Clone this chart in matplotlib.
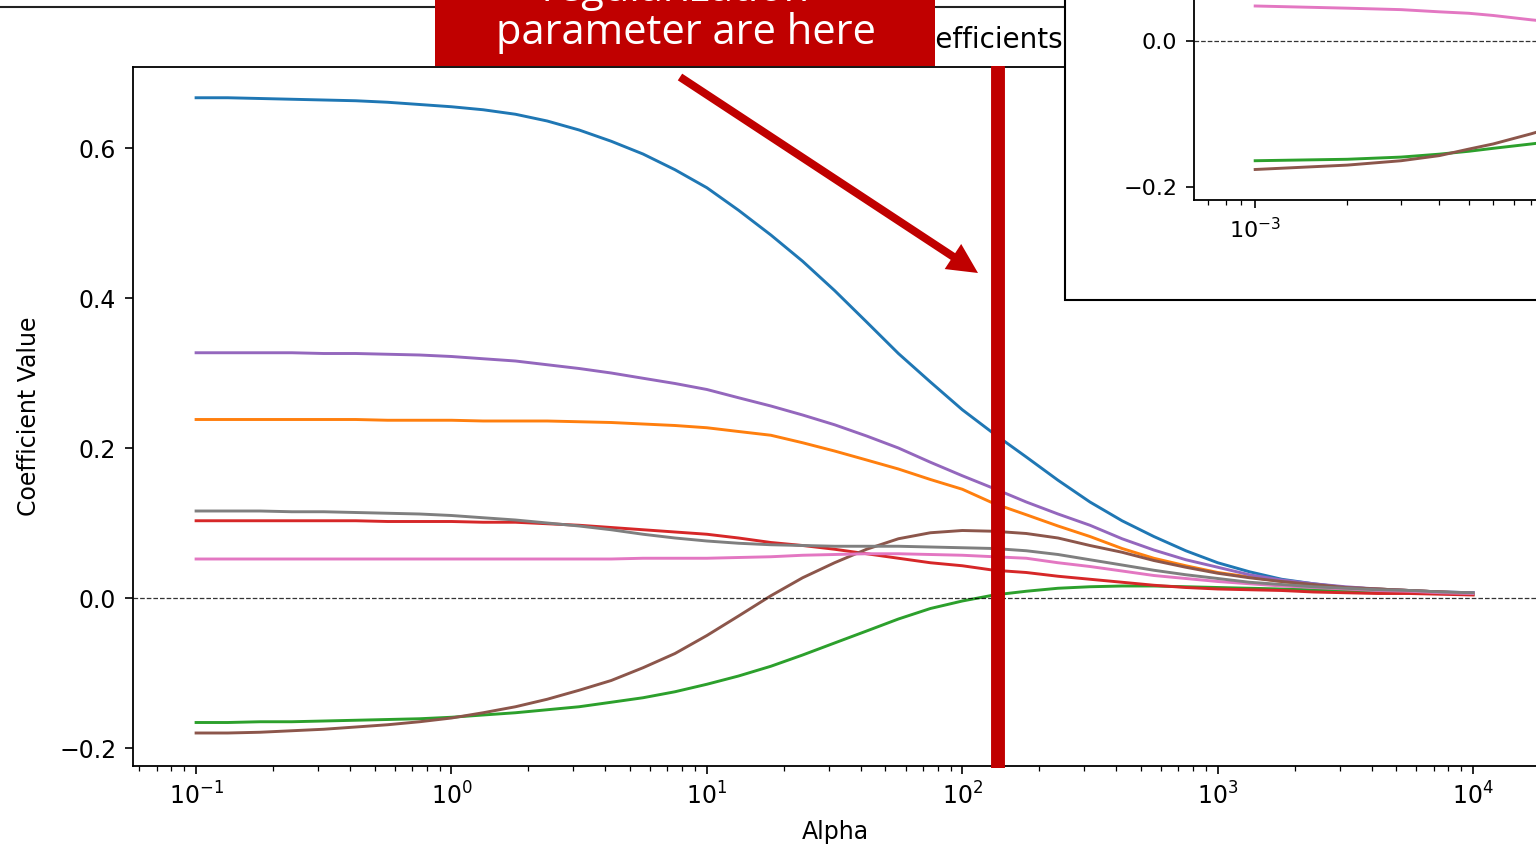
import matplotlib
matplotlib.use("Agg")
import matplotlib.pyplot as plt
from matplotlib.patches import Rectangle, FancyArrowPatch
from matplotlib.lines import Line2D

W, H = 1536, 865
RED = "#C00000"

# ridge path (alpha on an eighth-decade grid)
alpha = [0.1, 0.133, 0.178, 0.237, 0.316, 0.422, 0.562, 0.750,
         1.0, 1.33, 1.78, 2.37, 3.16, 4.22, 5.62, 7.50,
         10, 13.3, 17.8, 23.7, 31.6, 42.2, 56.2, 75.0,
         100, 133, 178, 237, 316, 422, 562, 750,
         1000, 1330, 1780, 2370, 3160, 4220, 5620, 7500,
         10000]

coef_blue = [0.667, 0.667, 0.666, 0.665, 0.664, 0.663, 0.661, 0.658,
             0.655, 0.651, 0.645, 0.636, 0.624, 0.609, 0.592, 0.571,
             0.547, 0.517, 0.484, 0.449, 0.410, 0.368, 0.326, 0.288,
             0.251, 0.219, 0.188, 0.157, 0.128, 0.103, 0.082, 0.063,
             0.047, 0.035, 0.025, 0.019, 0.014, 0.012, 0.010, 0.008,
             0.007]
coef_orange = [0.238, 0.238, 0.238, 0.238, 0.238, 0.238, 0.237, 0.237,
               0.237, 0.236, 0.236, 0.236, 0.235, 0.234, 0.232, 0.230,
               0.227, 0.222, 0.217, 0.207, 0.196, 0.184, 0.172, 0.158,
               0.145, 0.126, 0.111, 0.096, 0.082, 0.066, 0.053, 0.043,
               0.034, 0.028, 0.022, 0.017, 0.014, 0.012, 0.010, 0.008,
               0.006]
coef_green = [-0.166, -0.166, -0.165, -0.165, -0.164, -0.163, -0.162, -0.161,
              -0.159, -0.156, -0.153, -0.149, -0.145, -0.139, -0.133, -0.125,
              -0.115, -0.104, -0.091, -0.076, -0.060, -0.044, -0.028, -0.014,
              -0.004, 0.004, 0.009, 0.013, 0.015, 0.016, 0.016, 0.015,
              0.014, 0.013, 0.012, 0.011, 0.010, 0.009, 0.008, 0.007,
              0.005]
coef_red = [0.103, 0.103, 0.103, 0.103, 0.103, 0.103, 0.102, 0.102,
            0.102, 0.101, 0.101, 0.099, 0.097, 0.094, 0.091, 0.088,
            0.085, 0.080, 0.074, 0.070, 0.065, 0.059, 0.053, 0.047,
            0.043, 0.037, 0.034, 0.029, 0.025, 0.021, 0.017, 0.014,
            0.012, 0.011, 0.010, 0.008, 0.007, 0.006, 0.006, 0.005,
            0.004]
coef_purple = [0.327, 0.327, 0.327, 0.327, 0.326, 0.326, 0.325, 0.324,
               0.322, 0.319, 0.316, 0.311, 0.306, 0.300, 0.293, 0.286,
               0.278, 0.267, 0.256, 0.244, 0.231, 0.216, 0.200, 0.181,
               0.163, 0.146, 0.128, 0.112, 0.097, 0.079, 0.064, 0.051,
               0.041, 0.031, 0.024, 0.019, 0.015, 0.012, 0.010, 0.008,
               0.007]
coef_brown = [-0.180, -0.180, -0.179, -0.177, -0.175, -0.172, -0.169, -0.165,
              -0.160, -0.153, -0.145, -0.135, -0.123, -0.110, -0.093, -0.074,
              -0.050, -0.024, 0.003, 0.027, 0.047, 0.065, 0.079, 0.087,
              0.090, 0.089, 0.086, 0.080, 0.070, 0.061, 0.050, 0.041,
              0.033, 0.027, 0.022, 0.018, 0.014, 0.012, 0.010, 0.008,
              0.006]
coef_pink = [0.052, 0.052, 0.052, 0.052, 0.052, 0.052, 0.052, 0.052,
             0.052, 0.052, 0.052, 0.052, 0.052, 0.052, 0.053, 0.053,
             0.053, 0.054, 0.055, 0.057, 0.058, 0.059, 0.059, 0.058,
             0.057, 0.055, 0.053, 0.047, 0.042, 0.036, 0.030, 0.026,
             0.022, 0.019, 0.016, 0.014, 0.012, 0.010, 0.009, 0.007,
             0.006]
coef_gray = [0.116, 0.116, 0.116, 0.115, 0.115, 0.114, 0.113, 0.112,
             0.110, 0.107, 0.104, 0.100, 0.096, 0.091, 0.085, 0.080,
             0.076, 0.073, 0.071, 0.070, 0.069, 0.069, 0.069, 0.068,
             0.067, 0.066, 0.063, 0.058, 0.051, 0.044, 0.037, 0.031,
             0.026, 0.021, 0.018, 0.015, 0.013, 0.011, 0.010, 0.008,
             0.007]

coefs = [coef_blue, coef_orange, coef_green, coef_red,
         coef_purple, coef_brown, coef_pink, coef_gray]

chosen_alpha = 138

# second screenshot in the corner (smaller alphas)
inset_alpha = [0.001, 0.002, 0.003, 0.004, 0.005, 0.006, 0.008, 0.010]
inset_green = [-0.164, -0.162, -0.159, -0.155, -0.151, -0.147, -0.141, -0.136]
inset_brown = [-0.176, -0.170, -0.164, -0.157, -0.148, -0.141, -0.127, -0.115]
inset_pink = [0.048, 0.045, 0.043, 0.040, 0.038, 0.035, 0.029, 0.025]


def fx(x):
    return x / W


def fy(y):
    return 1 - y / H


fig = plt.figure(figsize=(W / 100, H / 100), dpi=100)

# main chart
ax = fig.add_axes([fx(133), fy(766), 1404 / W, 699 / H], zorder=0)
for c in coefs:
    ax.plot(alpha, c, lw=2.1)
ax.axhline(0, color="black", ls="--", lw=0.9, alpha=0.8)
ax.set_xscale("log")
ax.set_xlim(10 ** -1.247, 10 ** 4.25)
ax.set_ylim(-0.224, 0.708)
ax.set_yticks([-0.2, 0.0, 0.2, 0.4, 0.6])
ax.tick_params(labelsize=17, length=6, width=1.2, pad=6)
ax.tick_params(which="minor", length=3.4, width=0.9)
for s in ax.spines.values():
    s.set_linewidth(1.3)
ax.set_xlabel("Alpha", fontsize=17, labelpad=7)
ax.set_ylabel("Coefficient Value", fontsize=17, labelpad=13)
ax.axvline(chosen_alpha, ymin=-0.003, ymax=1.002, color=RED, lw=10,
           solid_capstyle="butt", clip_on=False, zorder=5)

# screenshot border and the (mostly hidden) title
fig.add_artist(Line2D([0, fx(1065)], [fy(7), fy(7)], color="#222222", lw=1.5,
                      transform=fig.transFigure, zorder=1))
fig.text(fx(1063), fy(40), "Ridge Coefficients", ha="right", va="center",
         fontsize=20, zorder=1)

# red callout box
fig.add_artist(Rectangle((fx(435), fy(66)), 500 / W, 90 / H, transform=fig.transFigure,
                         facecolor=RED, edgecolor="none", zorder=2))
fig.text(fx(686), fy(33), "parameter are here", color="white", fontsize=30,
         family="Open Sans", ha="center", va="center", zorder=3)
fig.text(fx(676), fy(-10), "regularization", color="white", fontsize=30,
         family="Open Sans", ha="center", va="center", zorder=3)

fig.add_artist(FancyArrowPatch(
    posA=(fx(680), fy(77)), posB=(fx(978), fy(273)), transform=fig.transFigure,
    arrowstyle="simple,head_length=0.6,head_width=0.6,tail_width=0.16",
    mutation_scale=36, color=RED, lw=0, shrinkA=0, shrinkB=0, zorder=6))

# inset panel
fig.add_artist(Rectangle((fx(1065), fy(300)), 600 / W, 400 / H, transform=fig.transFigure,
                         facecolor="white", edgecolor="black", lw=1.5, zorder=4))
ax2 = fig.add_axes([fx(1194), fy(200), 420 / W, 240 / H], zorder=5)
ax2.plot(inset_alpha, inset_green, color="C2", lw=2.1)
ax2.plot(inset_alpha, inset_brown, color="C5", lw=2.1)
ax2.plot(inset_alpha, inset_pink, color="C6", lw=2.1)
ax2.axhline(0, color="black", ls="--", lw=0.9, alpha=0.8)
ax2.set_xscale("log")
ax2.set_xlim(10 ** -3.2, 10 ** -1.827)
ax2.set_xticks([0.001])
ax2.set_ylim(-0.2178, 0.111)
ax2.set_yticks([-0.2, 0.0])
ax2.tick_params(labelsize=16, length=6, width=1.2, pad=6)
ax2.tick_params(which="minor", length=3.4, width=0.9)
for s in ax2.spines.values():
    s.set_linewidth(1.3)

fig.savefig("out.png", dpi=100)
